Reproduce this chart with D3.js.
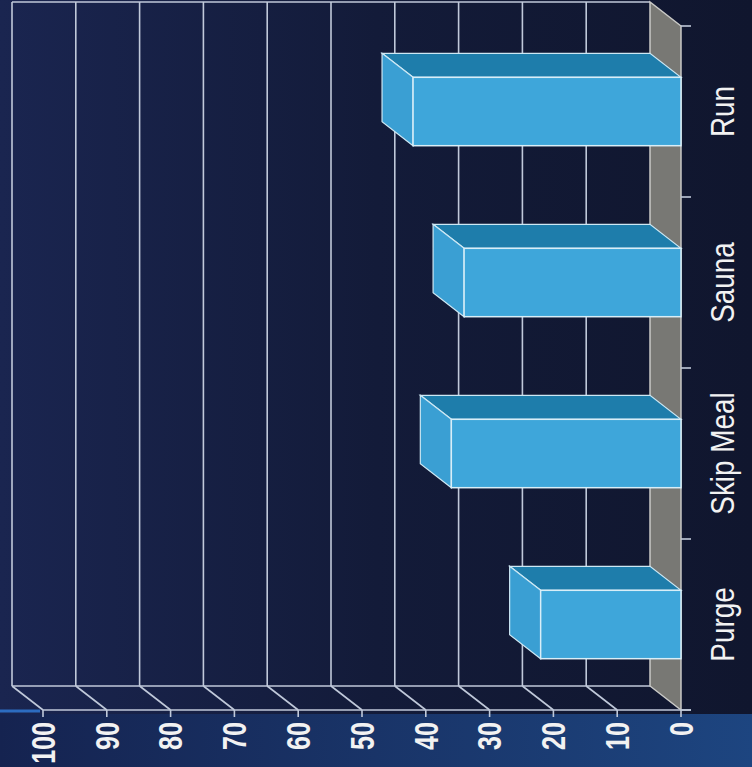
<!DOCTYPE html>
<html><head><meta charset="utf-8">
<script src="https://cdn.jsdelivr.net/npm/d3@7"></script>
<style>html,body{margin:0;padding:0;background:#111831;}svg{display:block;}</style>
</head><body>
<script>
const categories = ["Purge", "Skip Meal", "Sauna", "Run"];
const values = [22, 36, 34, 42];
const tickValues = [0, 10, 20, 30, 40, 50, 60, 70, 80, 90, 100];

const W = 752, H = 767;
const svg = d3.select("body").append("svg").attr("width", W).attr("height", H);
const defs = svg.append("defs");
const bg = defs.append("linearGradient").attr("id", "bg").attr("x1", 0).attr("x2", 1).attr("y1", 0).attr("y2", 0);
bg.append("stop").attr("offset", 0).attr("stop-color", "#1a2550");
bg.append("stop").attr("offset", 0.5).attr("stop-color", "#131b39");
bg.append("stop").attr("offset", 1).attr("stop-color", "#10162e");
const bb = defs.append("linearGradient").attr("id", "bb").attr("x1", 0).attr("x2", 1).attr("y1", 0).attr("y2", 0);
bb.append("stop").attr("offset", 0).attr("stop-color", "#152350");
bb.append("stop").attr("offset", 1).attr("stop-color", "#1d4580");

svg.append("rect").attr("width", W).attr("height", H).attr("fill", "url(#bg)");
svg.append("rect").attr("x", 0).attr("y", 714).attr("width", W).attr("height", H - 714).attr("fill", "url(#bb)");

// scales (front plane)
const x = d3.scaleLinear().domain([0, 100]).range([681, 43]);
const y = d3.scaleBand().domain(categories).range([710, 26]).padding(0);
const dx = -31, dy = -24;
const gridCol = "#c0c9da";

// back wall gridlines
const g = svg.append("g");
g.selectAll("line.grid").data(tickValues.slice(1)).join("line")
  .attr("x1", d => x(d) + dx).attr("x2", d => x(d) + dx)
  .attr("y1", 26 + dy).attr("y2", 710 + dy)
  .attr("stroke", gridCol).attr("stroke-width", 1.6);
g.append("line").attr("x1", x(100) + dx).attr("x2", x(0) + dx)
  .attr("y1", 26 + dy).attr("y2", 26 + dy).attr("stroke", gridCol).attr("stroke-width", 1.6);
g.append("line").attr("x1", x(100) + dx).attr("x2", x(0) + dx)
  .attr("y1", 710 + dy).attr("y2", 710 + dy).attr("stroke", gridCol).attr("stroke-width", 1.6);
g.selectAll("line.diag").data(tickValues.slice(1)).join("line")
  .attr("x1", d => x(d) + dx).attr("x2", d => x(d))
  .attr("y1", 710 + dy).attr("y2", 710)
  .attr("stroke", gridCol).attr("stroke-width", 1.6);

// gray zero wall
g.append("polygon")
  .attr("points", [[x(0), 26], [x(0) + dx, 26 + dy], [x(0) + dx, 710 + dy], [x(0), 710]].map(p => p.join(",")).join(" "))
  .attr("fill", "#787874").attr("stroke", "#c9c9c6").attr("stroke-width", 1.5);

// front axis line
g.append("line").attr("x1", x(100)).attr("x2", x(0) + 10).attr("y1", 710).attr("y2", 710)
  .attr("stroke", gridCol).attr("stroke-width", 1.6);
g.append("line").attr("x1", 0).attr("x2", 40).attr("y1", 711).attr("y2", 711)
  .attr("stroke", "#2c6cc0").attr("stroke-width", 3);
g.selectAll("line.tick").data(tickValues).join("line")
  .attr("x1", d => x(d)).attr("x2", d => x(d)).attr("y1", 710).attr("y2", 717)
  .attr("stroke", gridCol).attr("stroke-width", 1.6);
const bounds = categories.map(c => y(c)).concat([y(categories[0]) + y.bandwidth()]);
g.selectAll("line.ctick").data(bounds).join("line")
  .attr("x1", x(0)).attr("x2", x(0) + 10).attr("y1", d => d).attr("y2", d => d)
  .attr("stroke", gridCol).attr("stroke-width", 1.6);

// bars
const bars = svg.append("g");
const bw = y.bandwidth() * 0.4;
const data = categories.map((c, i) => ({c, v: values[i]}));
const pts = a => a.map(p => p.join(",")).join(" ");
data.forEach(d => {
  const yt = y(d.c) + (y.bandwidth() - bw) / 2, yb = yt + bw;
  const xv = x(d.v), x0 = x(0);
  bars.append("polygon").attr("points", pts([[xv, yt], [x0, yt], [x0 + dx, yt + dy], [xv + dx, yt + dy]]))
    .attr("fill", "#1e7dab").attr("stroke", "#cde8f4").attr("stroke-width", 1.2);
  bars.append("polygon").attr("points", pts([[xv, yt], [xv + dx, yt + dy], [xv + dx, yb + dy], [xv, yb]]))
    .attr("fill", "#3a9fd3").attr("stroke", "#cde8f4").attr("stroke-width", 1.2);
  bars.append("rect").attr("x", xv).attr("y", yt).attr("width", x0 - xv).attr("height", bw)
    .attr("fill", "#3ea6da").attr("stroke", "#d8eef8").attr("stroke-width", 1.5);
});

// value tick labels
svg.selectAll("text.tl").data(tickValues).join("text")
  .attr("transform", d => `translate(${x(d)},722) rotate(-90) scale(0.76,1)`)
  .attr("text-anchor", "end").attr("dominant-baseline", "central")
  .attr("font-family", "Liberation Sans, Arial, sans-serif").attr("font-weight", "bold")
  .attr("font-size", 33).attr("fill", "#f2f2f2").text(d => d);

// category labels
svg.selectAll("text.cl").data(categories).join("text")
  .attr("transform", d => `translate(723,${y(d) + y.bandwidth() / 2}) rotate(-90) scale(0.82,1)`)
  .attr("text-anchor", "middle").attr("dominant-baseline", "central")
  .attr("font-family", "Liberation Sans, Arial, sans-serif")
  .attr("font-size", 34).attr("fill", "#f2f2f2").text(d => d);
</script>
</body></html>
